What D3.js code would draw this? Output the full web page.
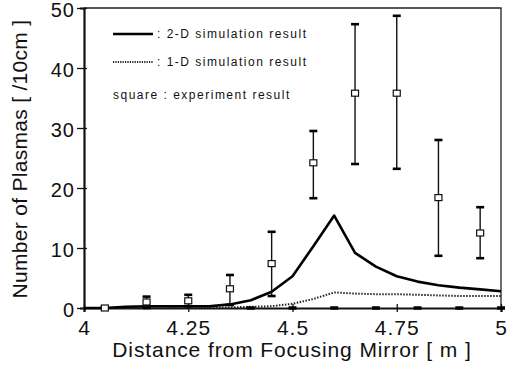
<!DOCTYPE html>
<html>
<head>
<meta charset="utf-8">
<script src="https://cdn.jsdelivr.net/npm/d3@7"></script>
<style>
  body { margin: 0; background: #fff; }
  svg { display: block; }
  text { font-family: "Liberation Sans", Arial, sans-serif; fill: #111; }
</style>
</head>
<body>
<div id="chart"></div>
<script>
// simulation curves, sampled every 0.05 m
const simX = [4.0, 4.05, 4.1, 4.15, 4.2, 4.25, 4.3, 4.35, 4.4, 4.45, 4.5,
  4.55, 4.6, 4.65, 4.7, 4.75, 4.8, 4.85, 4.9, 4.95, 5.0];
const sim2D = [0, 0, 0.2, 0.3, 0.3, 0.3, 0.3, 0.6, 1.3, 2.7, 5.3,
  10.3, 15.4, 9.2, 6.9, 5.3, 4.4, 3.8, 3.4, 3.1, 2.8];
const sim1D = [0, 0, 0, 0, 0, 0, 0.1, 0.1, 0.2, 0.3, 0.7,
  1.5, 2.6, 2.4, 2.3, 2.3, 2.2, 2.1, 2.0, 2.0, 2.0];

// experiment (squares with error bars)
const expX = [4.05, 4.15, 4.25, 4.35, 4.45, 4.55, 4.65, 4.75, 4.85, 4.95];
const expMean = [0, 1.0, 1.2, 3.2, 7.4, 24.2, 35.8, 35.8, 18.4, 12.5];
const expLow = [0, 0, 0.3, 0.5, 2.0, 18.3, 24.0, 23.2, 8.7, 8.3];
const expHigh = [0.2, 1.9, 2.2, 5.5, 12.7, 29.5, 47.3, 48.7, 28.0, 16.8];

// short marks sitting on the zero line
const zeroX = [4.05, 4.4, 4.5, 4.6, 4.7, 4.8, 4.9, 5.0];

const xTicks = [4, 4.25, 4.5, 4.75, 5];
const yTicks = [0, 10, 20, 30, 40, 50];

const width = 507, height = 373;

const svg = d3.select('#chart').append('svg')
  .attr('width', width)
  .attr('height', height);

const x = d3.scaleLinear().domain([4, 5]).range([84, 501]);
const y = d3.scaleLinear().domain([0, 50]).range([308, 8]);

// frame (top and right)
svg.append('path')
  .attr('d', `M${x(4)},${y(50)}H${x(5)}V${y(0)}`)
  .attr('fill', 'none')
  .attr('stroke', '#222')
  .attr('stroke-width', 1.3);

// axes
const xAxis = svg.append('g').attr('transform', `translate(0,${y(0)})`)
  .call(d3.axisBottom(x).tickValues(xTicks).tickSize(4).tickFormat(d => d));
const yAxis = svg.append('g').attr('transform', `translate(${x(4)},0)`)
  .call(d3.axisLeft(y).tickValues(yTicks).tickSize(4).tickFormat(d => d));

[xAxis, yAxis].forEach(g => {
  g.select('.domain').attr('stroke', '#111').attr('stroke-width', 2.2);
  g.selectAll('.tick line').attr('stroke', '#111').attr('stroke-width', 1.3);
  g.selectAll('.tick text')
    .attr('fill', '#111')
    .style('font-size', '21px')
    .style('letter-spacing', '1px')
    .style('font-family', '"Liberation Sans", Arial, sans-serif');
});
// ticks cross the axis line
xAxis.selectAll('.tick line').attr('y1', -4);
xAxis.selectAll('.tick text').attr('y', 12);
yAxis.selectAll('.tick line').attr('x1', -7).attr('x2', 3);
yAxis.selectAll('.tick text').attr('x', -9).attr('dy', '0.4em').style('font-size', '20px');

// axis titles
svg.append('text')
  .attr('x', 292).attr('y', 357)
  .attr('text-anchor', 'middle')
  .style('font-size', '21px')
  .style('letter-spacing', '0.9px')
  .text('Distance from Focusing Mirror [ m ]');

svg.append('text')
  .attr('transform', 'translate(27,159) rotate(-90)')
  .attr('text-anchor', 'middle')
  .style('font-size', '21px')
  .style('letter-spacing', '0.3px')
  .text('Number of Plasmas [ /10cm ]');

// simulation lines
const line = d3.line()
  .x((d, i) => x(simX[i]))
  .y(d => y(d));

svg.append('path')
  .datum(sim1D)
  .attr('d', line)
  .attr('fill', 'none')
  .attr('stroke', '#222')
  .attr('stroke-width', 2)
  .attr('stroke-dasharray', '1.5,1.5');

svg.append('path')
  .datum(sim2D)
  .attr('d', line)
  .attr('fill', 'none')
  .attr('stroke', '#000')
  .attr('stroke-width', 2.6)
  .attr('stroke-linejoin', 'round');

// zero-line marks
svg.append('g').selectAll('line')
  .data(zeroX)
  .enter()
  .append('line')
  .attr('x1', d => x(d) - 4)
  .attr('x2', d => x(d) + 4)
  .attr('y1', y(0))
  .attr('y2', y(0))
  .attr('stroke', '#000')
  .attr('stroke-width', 3.5);

// experiment error bars and squares
const exp = svg.append('g').selectAll('g')
  .data(expX)
  .enter()
  .append('g');

exp.append('line')
  .attr('x1', d => x(d)).attr('x2', d => x(d))
  .attr('y1', (d, i) => y(expLow[i]))
  .attr('y2', (d, i) => y(expHigh[i]))
  .attr('stroke', '#111')
  .attr('stroke-width', 1.4);

exp.append('line')
  .attr('x1', d => x(d) - 4).attr('x2', d => x(d) + 4)
  .attr('y1', (d, i) => y(expHigh[i]))
  .attr('y2', (d, i) => y(expHigh[i]))
  .attr('stroke', '#000')
  .attr('stroke-width', 2.6);

exp.append('line')
  .attr('x1', d => x(d) - 4).attr('x2', d => x(d) + 4)
  .attr('y1', (d, i) => y(expLow[i]))
  .attr('y2', (d, i) => y(expLow[i]))
  .attr('stroke', '#000')
  .attr('stroke-width', 2.6);

exp.append('rect')
  .attr('x', d => x(d) - 3.5)
  .attr('y', (d, i) => y(expMean[i]) - 3)
  .attr('width', 7)
  .attr('height', 6)
  .attr('fill', '#fff')
  .attr('stroke', '#111')
  .attr('stroke-width', 1.2);

// legend
const legend = svg.append('g')
  .style('font-size', '12px')
  .style('letter-spacing', '1.5px');
legend.append('line')
  .attr('x1', 113).attr('x2', 153).attr('y1', 34).attr('y2', 34)
  .attr('stroke', '#000').attr('stroke-width', 2.6);
legend.append('text')
  .attr('x', 157).attr('y', 38)
  .text(': 2-D simulation result');
legend.append('line')
  .attr('x1', 113).attr('x2', 153).attr('y1', 62).attr('y2', 62)
  .attr('stroke', '#222').attr('stroke-width', 1.8)
  .attr('stroke-dasharray', '1.2,1.2');
legend.append('text')
  .attr('x', 157).attr('y', 66)
  .text(': 1-D simulation result');
legend.append('text')
  .attr('x', 113).attr('y', 99)
  .text('square : experiment result');
</script>
</body>
</html>
